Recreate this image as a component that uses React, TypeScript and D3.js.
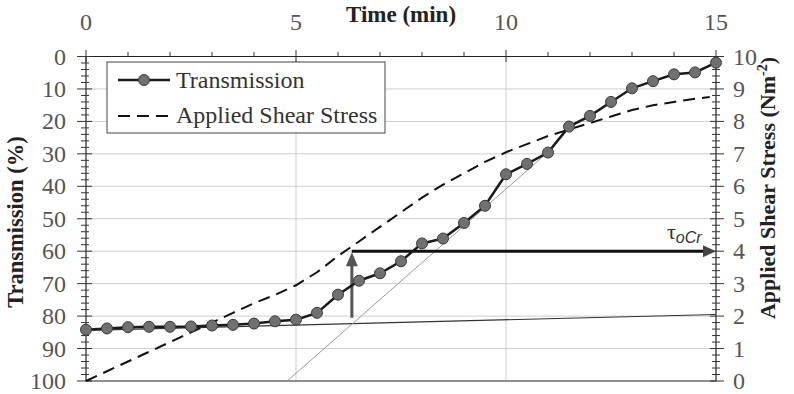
import React from 'react';
import * as d3 from 'd3';

// time (min) of each transmission reading
const timeMin = [0, 0.5, 1, 1.5, 2, 2.5, 3, 3.5, 4, 4.5, 5, 5.5, 6, 6.5, 7, 7.5, 8, 8.5, 9, 9.5, 10, 10.5, 11, 11.5, 12, 12.5, 13, 13.5, 14, 14.5, 15];
const transmission = [84.2, 83.8, 83.4, 83.3, 83.3, 83.2, 82.9, 82.7, 82.3, 81.6, 81.1, 79.0, 73.4, 69.1, 66.8, 63.1, 57.6, 56.1, 51.3, 46.0, 36.3, 33.1, 29.6, 21.6, 18.3, 14.0, 9.8, 7.6, 5.5, 4.9, 1.9];

// applied shear stress (Nm-2)
const stressTime = [0, 0.5, 1, 1.5, 2, 2.5, 3, 3.5, 4, 4.5, 5, 5.5, 6, 6.5, 7, 7.5, 8, 8.5, 9, 9.5, 10, 10.5, 11, 11.5, 12, 12.5, 13, 13.5, 14, 14.5, 14.85];
const stress = [0, 0.3, 0.6, 0.9, 1.2, 1.5, 1.8, 2.1, 2.4, 2.65, 2.95, 3.35, 3.85, 4.3, 4.75, 5.2, 5.65, 6.05, 6.4, 6.75, 7.05, 7.3, 7.55, 7.75, 7.95, 8.15, 8.35, 8.5, 8.6, 8.7, 8.75];

// construction lines [time, transmission]
const baseTangent: [number, number][] = [[0, 84.4], [15, 79.5]];
const steepTangent: [number, number][] = [[4.79, 100], [11.12, 28.1]];
const onsetTime = 6.33;
const onsetTransmission = 80.5;
const criticalStress = 4.0;

const timeTicks = [0, 5, 10, 15];
const transTicks = [0, 10, 20, 30, 40, 50, 60, 70, 80, 90, 100];
const stressTicks = [0, 1, 2, 3, 4, 5, 6, 7, 8, 9, 10];

const W = 794, H = 394;
const FONT = "'Liberation Serif', 'DejaVu Serif', serif";

export default function App() {
  const x = d3.scaleLinear().domain([0, 15]).range([86, 716]);
  const yT = d3.scaleLinear().domain([0, 100]).range([56.5, 381]);
  const yS = d3.scaleLinear().domain([0, 10]).range([381, 56.5]);

  const transLine = d3.line<number>().x((_, i) => x(timeMin[i])).y(d => yT(d));
  const stressLine = d3.line<number>().x((_, i) => x(stressTime[i])).y(d => yS(d));
  const seg = d3.line<[number, number]>().x(d => x(d[0])).y(d => yT(d[1]));

  const minorT = d3.range(0, 101, 2);
  const minorS = d3.range(0, 10.01, 0.2);
  const minuteTicks = d3.range(0, 16, 1);

  const ax = x(onsetTime);
  const ayTop = yS(criticalStress);

  return (
    <div style={{ position: 'fixed', left: 0, top: 0 }}>
      <svg width={W} height={H} style={{ display: 'block', background: '#fff', fontFamily: FONT }}>
        {/* grid */}
        {transTicks.slice(1, -1).map(t => (
          <line key={'gh' + t} x1={x(0)} x2={x(15)} y1={yT(t)} y2={yT(t)} stroke="#cdcdcd" strokeWidth={1} />
        ))}
        {[5, 10].map(t => (
          <line key={'gv' + t} x1={x(t)} x2={x(t)} y1={yT(0)} y2={yT(100)} stroke="#cdcdcd" strokeWidth={1} />
        ))}

        {/* axes */}
        <line x1={x(0)} x2={x(15)} y1={yT(0)} y2={yT(0)} stroke="#222" strokeWidth={1.2} />
        <line x1={x(0)} x2={x(15)} y1={yT(100)} y2={yT(100)} stroke="#222" strokeWidth={1.2} />
        <line x1={x(0)} x2={x(0)} y1={yT(0)} y2={yT(100)} stroke="#222" strokeWidth={1.2} />
        <line x1={x(15)} x2={x(15)} y1={yT(0)} y2={yT(100)} stroke="#222" strokeWidth={1.2} />

        {minorT.map(t => (
          <line key={'mt' + t} x1={t % 10 === 0 ? 77 : 81} x2={t % 10 === 0 ? 92 : 89} y1={yT(t)} y2={yT(t)} stroke="#333" strokeWidth={1} />
        ))}
        {minorS.map((s, i) => (
          <line key={'ms' + i} x1={i % 5 === 0 ? 710 : 712} x2={i % 5 === 0 ? 724 : 720} y1={yS(s)} y2={yS(s)} stroke="#333" strokeWidth={1} />
        ))}
        {minuteTicks.map(t => (
          <line key={'tt' + t} x1={x(t)} x2={x(t)} y1={t % 5 === 0 ? 50 : 52} y2={t % 5 === 0 ? 62 : 56.5} stroke="#333" strokeWidth={1} />
        ))}

        {/* tick labels */}
        {transTicks.map(t => (
          <text key={'lt' + t} x={66} y={yT(t) + 8} textAnchor="end" fontSize={24} fill="#555" style={{ fontFamily: FONT }}>{t}</text>
        ))}
        {stressTicks.map(s => (
          <text key={'ls' + s} x={733} y={yS(s) + 8} fontSize={24} fill="#555" style={{ fontFamily: FONT }}>{s}</text>
        ))}
        {timeTicks.map(t => (
          <text key={'lx' + t} x={x(t)} y={30} textAnchor="middle" fontSize={24} fill="#555" style={{ fontFamily: FONT }}>{t}</text>
        ))}

        {/* titles */}
        <text x={401} y={22} textAnchor="middle" fontSize={23} fontWeight="bold" fill="#222" style={{ fontFamily: FONT }}>Time (min)</text>
        <text transform="translate(23,222) rotate(-90)" textAnchor="middle" fontSize={22.5} fontWeight="bold" fill="#222" style={{ fontFamily: FONT }}>Transmission (%)</text>
        <text transform="translate(775,188) rotate(-90)" textAnchor="middle" fontSize={22} fontWeight="bold" fill="#222" style={{ fontFamily: FONT }}>
          Applied Shear Stress (Nm<tspan dy={-8} fontSize={14}>-2</tspan><tspan dy={8}>)</tspan>
        </text>

        {/* construction lines */}
        <path d={seg(baseTangent) ?? ''} fill="none" stroke="#333" strokeWidth={1.2} />
        <path d={seg(steepTangent) ?? ''} fill="none" stroke="#999" strokeWidth={1} />

        {/* shear stress */}
        <path d={stressLine(stress) ?? ''} fill="none" stroke="#111" strokeWidth={2} strokeDasharray="12,7" />

        {/* critical stress arrows */}
        <line x1={ax} x2={x(15) - 11} y1={ayTop} y2={ayTop} stroke="#111" strokeWidth={3} />
        <path d={`M${x(15)},${ayTop} l-13,-6 l0,12 z`} fill="#444" />
        <line x1={ax} x2={ax} y1={yT(onsetTransmission)} y2={ayTop + 12} stroke="#555" strokeWidth={3} />
        <path d={`M${ax},${ayTop + 1} l-6,14 l12,0 z`} fill="#555" />
        <text x={667} y={239} fontSize={22} fill="#333" style={{ fontFamily: FONT }}>τ<tspan dy={4} fontSize={16} fontStyle="italic" style={{ fontFamily: "'Liberation Sans', sans-serif" }}>oCr</tspan></text>

        {/* transmission */}
        <path d={transLine(transmission) ?? ''} fill="none" stroke="#1a1a1a" strokeWidth={2.5} />
        {transmission.map((v, i) => (
          <circle key={'p' + i} cx={x(timeMin[i])} cy={yT(v)} r={5.5} fill="#707070" stroke="#3a3a3a" strokeWidth={1} />
        ))}

        {/* legend */}
        <rect x={107} y={62} width={278} height={71} fill="#fff" stroke="#444" strokeWidth={1} />
        <line x1={118} x2={170} y1={80} y2={80} stroke="#1a1a1a" strokeWidth={2.5} />
        <circle cx={144} cy={80} r={5.5} fill="#707070" stroke="#3a3a3a" strokeWidth={1} />
        <text x={176} y={88} fontSize={24} fill="#333" style={{ fontFamily: FONT }}>Transmission</text>
        <line x1={118} x2={170} y1={116} y2={116} stroke="#111" strokeWidth={2} strokeDasharray="12,7" />
        <text x={176} y={123} fontSize={24} fill="#333" style={{ fontFamily: FONT }}>Applied Shear Stress</text>
      </svg>
    </div>
  );
}
